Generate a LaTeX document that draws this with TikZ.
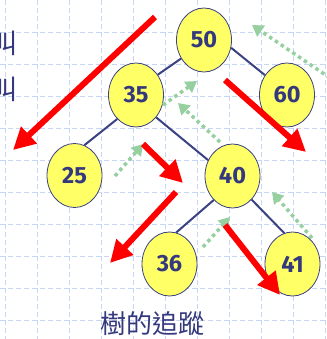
\documentclass[tikz,border=0pt]{standalone}
\usepackage{fontspec}
\usetikzlibrary{shapes.geometric,arrows.meta}
\newfontfamily\numfont{Fira Sans}
\newfontfamily\cjkfont{Noto Sans CJK TC}
\definecolor{nodeyellow}{RGB}{255,255,102}
\definecolor{inkblue}{RGB}{52,56,125}
\definecolor{edgeblue}{RGB}{58,66,130}
\definecolor{gridblue}{RGB}{200,214,245}
\definecolor{arrowred}{RGB}{255,0,0}
\definecolor{tracegreen}{RGB}{150,208,160}
\tikzset{
  treenode/.style={ellipse, draw=edgeblue, line width=0.8pt, fill=nodeyellow,
    minimum width=55pt, minimum height=64pt, inner sep=0pt,
    text=inkblue, font=\numfont\bfseries\fontsize{23.5}{23.5}\selectfont},
  treeedge/.style={draw=edgeblue, line width=2pt},
  gridline/.style={draw=gridblue, line width=0.7pt, dash pattern=on 5pt off 3pt},
  redtrace/.style={draw=arrowred, line width=6pt, -{Triangle[length=22pt,width=22pt]}},
  greentrace/.style={draw=tracegreen, line width=3.5pt, dash pattern=on 3.5pt off 3.5pt,
    -{Triangle[length=11pt,width=13pt]}},
  labeltext/.style={text=inkblue, inner sep=0pt}
}
\begin{document}
\begin{tikzpicture}[x=1pt,y=-1pt]
\useasboundingbox (0,0) rectangle (326,339);
\fill[white] (0,0) rectangle (326,339);
% background grid
\foreach \k in {0,...,10} \draw[gridline] (5.3+32*\k,0) -- (5.3+32*\k,339);
\foreach \k in {1,...,10} \draw[gridline] (0,32*\k) -- (326,32*\k);
% partial text at the left edge (cut off in the reference)
\node[labeltext, anchor=east, font=\cjkfont\fontsize{27}{27}\selectfont] (cutA) at (18,43) {叫};
\node[labeltext, anchor=east, font=\cjkfont\fontsize{27}{27}\selectfont] (cutB) at (18,89) {叫};
% nodes
\node[treenode] (n50) at (204,40) {50};
\node[treenode] (n60) at (287,95) {60};
\node[treenode] (n35) at (136,95) {35};
\node[treenode] (n25) at (74.5,175.5) {25};
\node[treenode] (n40) at (232.5,176) {40};
\node[treenode] (n36) at (169.5,264) {36};
\node[treenode] (n41) at (292.5,264) {41};
% edges
\draw[treeedge] (n50.219) -- (n35.43);
\draw[treeedge] (n50.-16) -- (n60.138);
\draw[treeedge] (n35.232) -- (n25.72);
\draw[treeedge] (n35.-48) -- (n40.147);
\draw[treeedge] (n40.-128) -- (n36.78);
\draw[treeedge] (n40.-51) -- (n41.105);
% trace arrow ends
\coordinate (r1s) at (155,17);  \coordinate (r1e) at (13,150);
\coordinate (r2s) at (225,80);  \coordinate (r2e) at (306,152);
\coordinate (r3s) at (143,144); \coordinate (r3e) at (183,183);
\coordinate (r4s) at (176,192); \coordinate (r4e) at (110,263);
\coordinate (r5s) at (225,225); \coordinate (r5e) at (280,295);
\coordinate (g1s) at (330,78);  \coordinate (g1e) at (252,25);
\coordinate (g2s) at (163,105); \coordinate (g2e) at (197,81);
\coordinate (g3s) at (115,176); \coordinate (g3e) at (143,144);
\coordinate (g4s) at (220,142); \coordinate (g4e) at (178,103);
\coordinate (g5s) at (203,247); \coordinate (g5e) at (230,217);
\coordinate (g6s) at (312,238); \coordinate (g6e) at (272,192);
% green dotted return traces
\draw[greentrace] (g1s) -- (g1e);
\draw[greentrace] (g2s) -- (g2e);
\draw[greentrace] (g3s) -- (g3e);
\draw[greentrace] (g4s) -- (g4e);
\draw[greentrace] (g5s) -- (g5e);
\draw[greentrace] (g6s) -- (g6e);
% red descending traces
\draw[redtrace] (r1s) -- (r1e);
\draw[redtrace] (r2s) -- (r2e);
\draw[redtrace] (r3s) -- (r3e);
\draw[redtrace] (r4s) -- (r4e);
\draw[redtrace] (r5s) -- (r5e);
% caption
\node[labeltext, font=\cjkfont\fontsize{26}{26}\selectfont] (caption) at (152,324) {樹的追蹤};
\end{tikzpicture}
\end{document}
